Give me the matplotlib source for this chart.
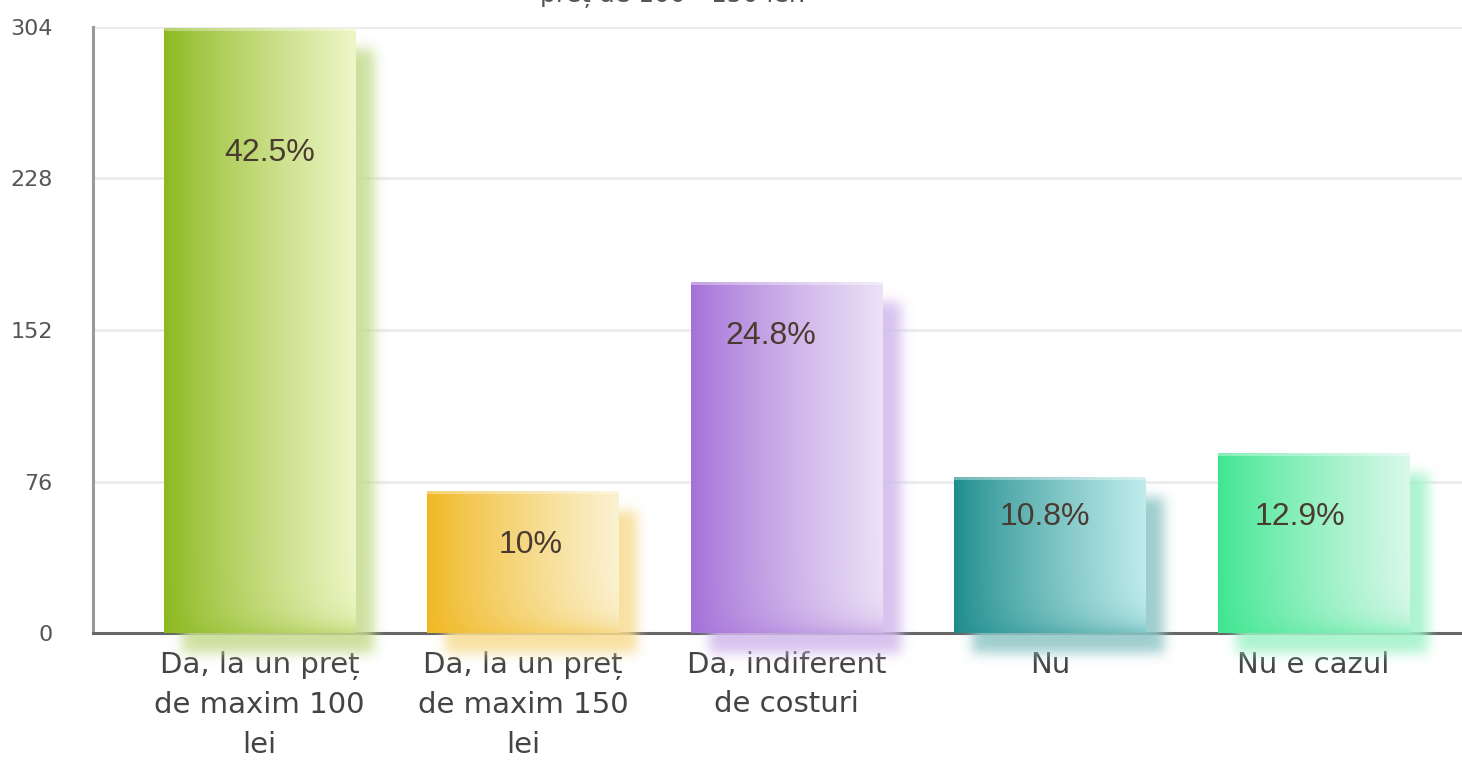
import numpy as np
import matplotlib
matplotlib.use("Agg")
import matplotlib.pyplot as plt
from matplotlib.colors import to_rgb

# ---------------- data ----------------
categories = ["Da, la un preț\nde maxim 100\nlei",
              "Da, la un preț\nde maxim 150\nlei",
              "Da, indiferent\nde costuri",
              "Nu",
              "Nu e cazul"]
counts = [303, 71, 176, 78, 90]
pct_labels = ["42.5%", "10%", "24.8%", "10.8%", "12.9%"]
label_y = [241, 44, 149, 58, 58]
label_dx_px = [10, 8, -16, -5, -13]
y_ticks = [0, 76, 152, 228, 304]
title_text = "preț de 100 - 150 lei?"

colors_dark = ["#8cb81e", "#f0b822", "#a470d8", "#1e8c8c", "#3ee690"]
colors_light = ["#eef6c6", "#fbf2d2", "#ece2f6", "#c0ecec", "#daf8ea"]

# ---------------- layout ----------------
W, H = 1462, 761
fig = plt.figure(figsize=(W / 100, H / 100), dpi=100)
left_px, top_px, bottom_px = 93, 27, 633
ax = fig.add_axes([left_px / W, (H - bottom_px) / H,
                   (W - left_px) / W, (bottom_px - top_px) / H])
ax.set_xlim(-0.632, 4.564)
ax.set_ylim(0, 304)

px_x = (W - left_px) / (4.564 + 0.632)   # pixels per x unit
px_y = (bottom_px - top_px) / 304.0       # pixels per y unit
bar_w = 0.725


def blur1d(a, sigma, axis):
    r = int(3 * sigma)
    k = np.exp(-0.5 * (np.arange(-r, r + 1) / sigma) ** 2)
    k /= k.sum()
    return np.apply_along_axis(lambda v: np.convolve(v, k, mode="same"), axis, a)


for i, (h, cd, cl) in enumerate(zip(counts, colors_dark, colors_light)):
    c0 = np.array(to_rgb(cd))
    c1 = np.array(to_rgb(cl))
    x0, x1 = i - bar_w / 2, i + bar_w / 2
    pw = int(round(bar_w * px_x))
    ph = int(round(h * px_y))

    # ---- shadow ----
    pad, dx, dy = 45, 18, 20
    mask = np.zeros((ph + 2 * pad, pw + 2 * pad))
    mask[pad + dy:pad + dy + ph, pad + dx:pad + dx + pw] = 1.0
    mask = blur1d(blur1d(mask, 6, 0), 6, 1)
    scol = c0 * 0.5 + np.array([1, 1, 1]) * 0.5
    sh = np.zeros(mask.shape + (4,))
    sh[..., :3] = scol
    sh[..., 3] = np.clip(mask, 0, 1) * 0.85
    ax.imshow(sh, extent=[x0 - pad / px_x, x1 + pad / px_x,
                          -pad / px_y, h + pad / px_y],
              aspect="auto", interpolation="bilinear", zorder=2.6,
              clip_on=False)

    # ---- bar gradient ----
    t = np.linspace(0, 1, pw) ** 0.85
    img = c0[None, None, :] * (1 - t)[None, :, None] + c1[None, None, :] * t[None, :, None]
    img = np.repeat(img, ph, axis=0)
    # bottom inner shading
    d = np.arange(ph)[::-1].astype(float)
    wb = (np.exp(-d / 14.0) * 0.4)[:, None, None]
    img = img * (1 - wb) + c0[None, None, :] * wb
    # top light edge
    topw = np.zeros(ph)
    topw[:3] = 0.35
    img = img * (1 - topw[:, None, None]) + topw[:, None, None]
    img = np.clip(img, 0, 1)
    ax.imshow(img, extent=[x0, x1, 0, h], aspect="auto",
              interpolation="bilinear", zorder=3)

    ax.text(i + label_dx_px[i] / px_x, label_y[i], pct_labels[i],
            ha="center", va="center",
            fontsize=23, color="#4a3b30", family="Liberation Sans", zorder=5)

# ---------------- axes styling ----------------
ax.set_xticks(range(len(categories)))
ax.set_xticklabels(categories, fontsize=21, color="#444444",
                   family="DejaVu Sans", linespacing=1.52)
ax.set_yticks(y_ticks)
ax.set_yticklabels([str(v) for v in y_ticks], fontsize=16, color="#555555",
                   family="DejaVu Sans")
ax.tick_params(axis="both", length=0)
ax.tick_params(axis="y", pad=29)
ax.tick_params(axis="x", pad=13)
ax.grid(axis="y", color="#ebebeb", linewidth=2)
ax.set_axisbelow(True)
for s in ["top", "right"]:
    ax.spines[s].set_visible(False)
ax.spines["left"].set_color("#999999")
ax.spines["left"].set_linewidth(2.2)
ax.spines["bottom"].set_color("#666666")
ax.spines["bottom"].set_linewidth(2.2)
ax.spines["left"].set_zorder(2.5)
ax.spines["bottom"].set_zorder(2.5)

fig.text(675 / W, 1 - 1.5 / H, title_text, ha="center", va="baseline",
         fontsize=18, color="#555555", family="DejaVu Sans")

fig.savefig("out.png", dpi=100)
